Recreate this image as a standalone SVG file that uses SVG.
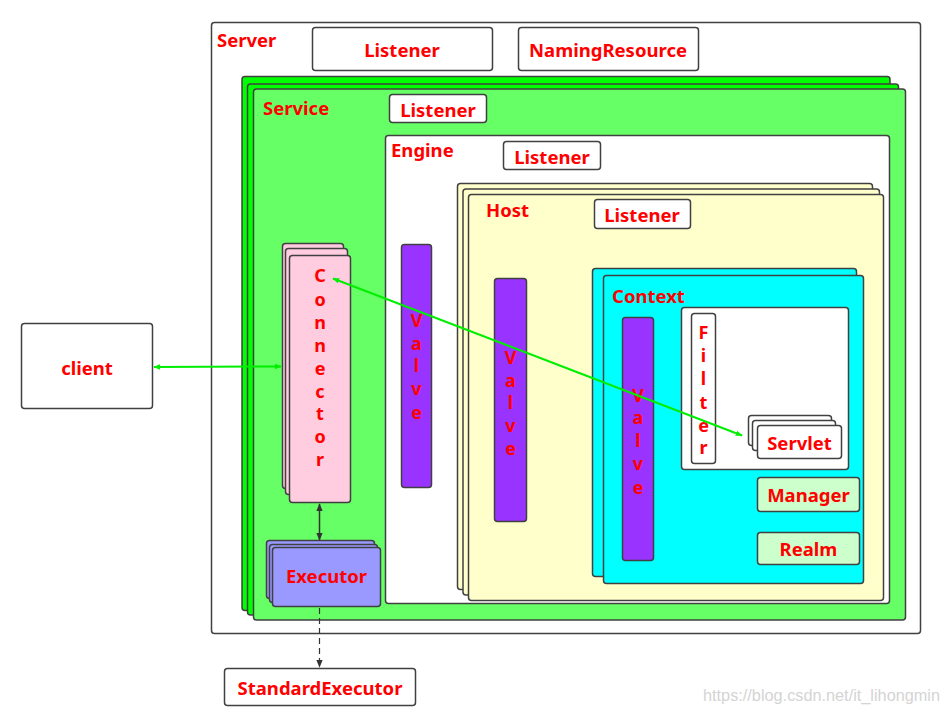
<svg xmlns="http://www.w3.org/2000/svg" width="952" height="714" viewBox="0 0 952 714">
<defs>
<style>
.b{stroke:#404040;stroke-width:1.5}
.w{fill:#ffffff}
.t{font-family:"Noto Sans","Open Sans","DejaVu Sans",sans-serif;font-weight:bold;font-size:18.5px;fill:#ff0000}
.c{text-anchor:middle;dominant-baseline:central}
.vl{font-size:18px}
.g1{fill:#00ff00}
.g2{fill:#66ff66}
.y{fill:#ffffcc}
.p{fill:#ffcce0}
.v{fill:#9933ff}
.e{fill:#9999ff}
.cy{fill:#00ffff}
.lg{fill:#ccffcc}
.wm{font-family:"Liberation Sans",Arial,sans-serif;font-size:16px;fill:#d4d4d4}
</style>
<marker id="ga" viewBox="0 0 10 10" refX="9" refY="5" markerWidth="7" markerHeight="7" orient="auto-start-reverse" markerUnits="userSpaceOnUse">
<path d="M0,1 L10,5 L0,9 Z" fill="#00ee00"/>
</marker>
<marker id="da" viewBox="0 0 10 10" refX="9" refY="5" markerWidth="8" markerHeight="8" orient="auto-start-reverse" markerUnits="userSpaceOnUse">
<path d="M0,1 L10,5 L0,9 Z" fill="#333333"/>
</marker>
</defs>

<rect width="952" height="714" fill="#ffffff"/>

<g id="server">
<rect class="b w" x="211.5" y="22.5" width="709" height="611" rx="3"/>
<text class="t" x="217" y="47">Server</text>
</g>
<g id="server-listener">
<rect class="b w" x="312.5" y="27.5" width="180" height="43" rx="3"/>
<text class="t c" x="402" y="49">Listener</text>
</g>
<g id="naming-resource">
<rect class="b w" x="518.5" y="27.5" width="180" height="43" rx="3"/>
<text class="t c" x="608" y="49">NamingResource</text>
</g>

<g id="service">
<rect class="b g1" x="242" y="76.5" width="648" height="534" rx="3"/>
<rect class="b g1" x="247.5" y="84" width="651" height="531" rx="3"/>
<rect class="b g2" x="253.5" y="89" width="652" height="531" rx="3"/>
<text class="t" x="263" y="115">Service</text>
</g>
<g id="service-listener">
<rect class="b w" x="389.5" y="94.5" width="97" height="28" rx="3"/>
<text class="t c" x="438" y="109">Listener</text>
</g>

<g id="engine">
<rect class="b w" x="385.5" y="135.5" width="504" height="468" rx="3"/>
<text class="t" x="391" y="157">Engine</text>
</g>
<g id="engine-listener">
<rect class="b w" x="503.5" y="141.5" width="97" height="28" rx="3"/>
<text class="t c" x="552" y="156">Listener</text>
</g>

<g id="host">
<rect class="b y" x="457.5" y="183.5" width="415" height="406" rx="3"/>
<rect class="b y" x="463" y="189" width="416.5" height="406" rx="3"/>
<rect class="b y" x="468.5" y="194.5" width="415" height="406" rx="3"/>
<text class="t" x="486" y="217">Host</text>
</g>
<g id="host-listener">
<rect class="b w" x="594.5" y="199.5" width="96" height="29" rx="3"/>
<text class="t c" x="642" y="214">Listener</text>
</g>

<g id="context">
<rect class="b cy" x="592.5" y="268.5" width="264" height="308" rx="3"/>
<rect class="b cy" x="603.5" y="275.5" width="260" height="308" rx="3"/>
<text class="t" x="612" y="303">Context</text>
</g>
<g id="context-inner">
<rect class="b w" x="681.5" y="307.5" width="167" height="162" rx="3"/>
</g>
<g id="filter">
<rect class="b w" x="691.5" y="313.5" width="24" height="150" rx="3"/>
<text class="t c vl" x="703.5" y="332">F</text>
<text class="t c vl" x="703.5" y="355">i</text>
<text class="t c vl" x="703.5" y="378">l</text>
<text class="t c vl" x="703.5" y="402">t</text>
<text class="t c vl" x="703.5" y="425">e</text>
<text class="t c vl" x="703.5" y="447">r</text>
</g>
<g id="servlet">
<rect class="b w" x="748.5" y="415.5" width="83" height="30" rx="3"/>
<rect class="b w" x="752.5" y="420.5" width="83" height="30" rx="3"/>
<rect class="b w" x="757.5" y="425.5" width="84" height="33" rx="3"/>
<text class="t c" x="799.5" y="442">Servlet</text>
</g>
<g id="manager">
<rect class="b lg" x="757.5" y="477.5" width="102" height="34" rx="3"/>
<text class="t c" x="808.5" y="494">Manager</text>
</g>
<g id="realm">
<rect class="b lg" x="757.5" y="532.5" width="102" height="32" rx="3"/>
<text class="t c" x="808.5" y="548">Realm</text>
</g>

<g id="valve-engine">
<rect class="b v" x="401.5" y="244.5" width="30" height="243" rx="3"/>
<text class="t c vl" x="416.5" y="320">V</text>
<text class="t c vl" x="416.5" y="343">a</text>
<text class="t c vl" x="416.5" y="365">l</text>
<text class="t c vl" x="416.5" y="388">v</text>
<text class="t c vl" x="416.5" y="412">e</text>
</g>
<g id="valve-host">
<rect class="b v" x="494.5" y="278.5" width="32" height="243" rx="3"/>
<text class="t c vl" x="510.5" y="357">V</text>
<text class="t c vl" x="510.5" y="380">a</text>
<text class="t c vl" x="510.5" y="402">l</text>
<text class="t c vl" x="510.5" y="425">v</text>
<text class="t c vl" x="510.5" y="448">e</text>
</g>
<g id="valve-context">
<rect class="b v" x="622.5" y="317.5" width="31" height="243" rx="3"/>
<text class="t c vl" x="638" y="395">V</text>
<text class="t c vl" x="638" y="417">a</text>
<text class="t c vl" x="638" y="440">l</text>
<text class="t c vl" x="638" y="463">v</text>
<text class="t c vl" x="638" y="487">e</text>
</g>

<g id="connector">
<rect class="b p" x="282.5" y="243.5" width="61" height="245" rx="3"/>
<rect class="b p" x="285.5" y="248.5" width="62" height="246" rx="3"/>
<rect class="b p" x="289.5" y="255.5" width="61" height="247" rx="3"/>
<text class="t c vl" x="320" y="275">C</text>
<text class="t c vl" x="320" y="299">o</text>
<text class="t c vl" x="320" y="322">n</text>
<text class="t c vl" x="320" y="345">n</text>
<text class="t c vl" x="320" y="368">e</text>
<text class="t c vl" x="320" y="391">c</text>
<text class="t c vl" x="320" y="413">t</text>
<text class="t c vl" x="320" y="436">o</text>
<text class="t c vl" x="320" y="459">r</text>
</g>

<g id="executor">
<rect class="b e" x="266.5" y="540.5" width="108" height="58" rx="3"/>
<rect class="b e" x="269.5" y="544.5" width="108" height="58" rx="3"/>
<rect class="b e" x="272.5" y="547.5" width="108" height="59" rx="3"/>
<text class="t c" x="326.5" y="575">Executor</text>
</g>

<g id="client">
<rect class="b w" x="21.5" y="323.5" width="131" height="85" rx="3"/>
<text class="t c" x="87" y="367">client</text>
</g>

<g id="standard-executor">
<rect class="b w" x="224.5" y="668.5" width="191" height="37" rx="3"/>
<text class="t c" x="320" y="687">StandardExecutor</text>
</g>

<g id="connectors">
<line x1="154" y1="367" x2="281" y2="366.5" stroke="#00ee00" stroke-width="2" marker-start="url(#ga)" marker-end="url(#ga)"/>
<line x1="333" y1="278.5" x2="742" y2="435.5" stroke="#00ee00" stroke-width="2" marker-start="url(#ga)" marker-end="url(#ga)"/>
<line x1="319.5" y1="504" x2="319.5" y2="540" stroke="#333333" stroke-width="1.5" marker-start="url(#da)" marker-end="url(#da)"/>
<line x1="319.5" y1="608" x2="319.5" y2="667" stroke="#333333" stroke-width="1.2" stroke-dasharray="6,4" marker-end="url(#da)"/>
</g>

<text class="wm" x="703" y="701" textLength="237" lengthAdjust="spacingAndGlyphs">https://blog.csdn.net/it_lihongmin</text>
</svg>
